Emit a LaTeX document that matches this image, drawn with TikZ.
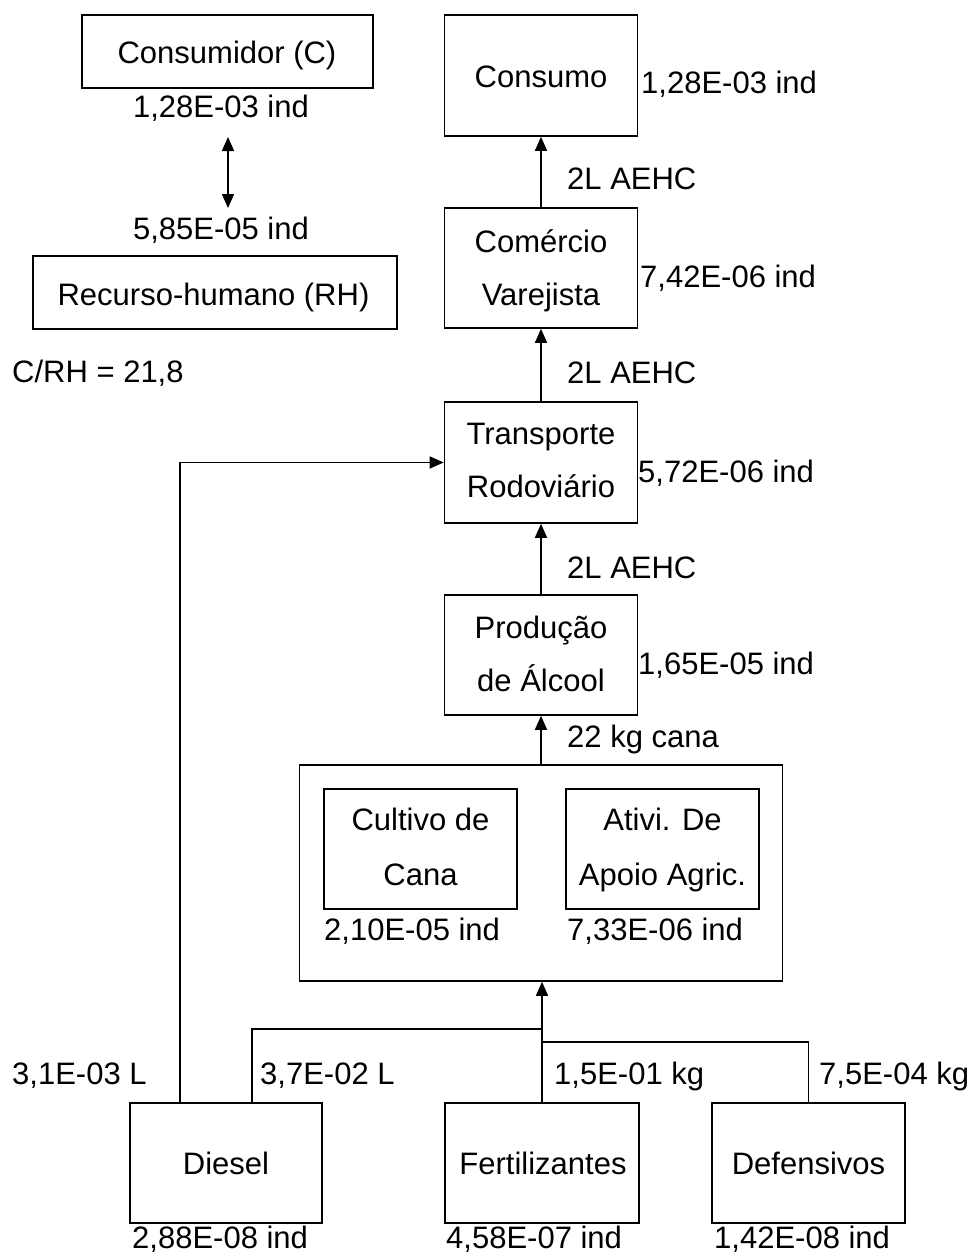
\documentclass[tikz,border=0pt]{standalone}
\usepackage{fontspec}
\setmainfont{Liberation Sans}
\usetikzlibrary{arrows.meta}
\begin{document}
\begin{tikzpicture}[x=1pt,y=-1pt,
  box/.style={draw,line width=1.6pt,inner sep=0pt},
  txt/.style={font=\fontsize{31}{37}\selectfont,inner sep=0pt,anchor=base},
  lbl/.style={font=\fontsize{31}{37}\selectfont,inner sep=0pt,anchor=base west},
  conn/.style={line width=1.5pt},
  arr/.style={conn,-{Triangle[length=14pt,width=12pt]}},
  darr/.style={conn,{Triangle[length=14pt,width=12pt]}-{Triangle[length=14pt,width=12pt]}}]
\useasboundingbox (0,0) rectangle (974,1254);
% --- boxes
\node[box,minimum width=291pt,minimum height=73pt] (cons) at (227.5,51.5) {};
\node[box,minimum width=364pt,minimum height=73pt] (rh) at (215,292.5) {};
\node[box,minimum width=193pt,minimum height=121pt] (consumo) at (541,75.5) {};
\node[box,minimum width=193pt,minimum height=120pt] (comercio) at (541,268) {};
\node[box,minimum width=193pt,minimum height=121pt] (transp) at (541,462.5) {};
\node[box,minimum width=193pt,minimum height=120pt] (prod) at (541,655) {};
\node[box,minimum width=483pt,minimum height=216pt] (big) at (541,873) {};
\node[box,minimum width=193pt,minimum height=120pt] (cultivo) at (420.5,849) {};
\node[box,minimum width=193pt,minimum height=120pt] (ativi) at (662.5,849) {};
\node[box,minimum width=192pt,minimum height=120pt] (diesel) at (226,1163) {};
\node[box,minimum width=194pt,minimum height=120pt] (fert) at (542,1163) {};
\node[box,minimum width=193pt,minimum height=120pt] (def) at (808.5,1163) {};
% --- box texts
\node[txt] (consT) at (227,63) {Consumidor (C)};
\node[txt] (rhT) at (213.5,305) {Recurso-humano (RH)};
\node[txt] (consumoT) at (541,87) {Consumo};
\node[txt] (comercioT1) at (541,252) {Comércio};
\node[txt] (comercioT2) at (541,305) {Varejista};
\node[txt] (transpT1) at (541,444) {Transporte};
\node[txt] (transpT2) at (541,497) {Rodoviário};
\node[txt] (prodT1) at (541,638) {Produção};
\node[txt] (prodT2) at (541,691) {de Álcool};
\node[txt] (cultivoT1) at (420.5,830) {Cultivo de};
\node[txt] (cultivoT2) at (420.5,885) {Cana};
\node[txt] (ativiT1) at (662.5,830) {Ativi. De};
\node[txt] (ativiT2) at (662.5,885) {Apoio Agric.};
\node[txt] (dieselT) at (226,1174) {Diesel};
\node[txt] (fertT) at (543,1174) {Fertilizantes};
\node[txt] (defT) at (808.5,1174) {Defensivos};
% --- labels
\node[txt] (lc1) at (221,117) {1,28E-03 ind};
\node[txt] (lc2) at (221,239) {5,85E-05 ind};
\node[lbl] (ratio) at (12,382) {C/RH = 21,8};
\node[lbl] (lconsumo) at (641,93) {1,28E-03 ind};
\node[lbl] (aehc1) at (567,189) {2L AEHC};
\node[lbl] (lcomercio) at (640,287) {7,42E-06 ind};
\node[lbl] (aehc2) at (567,383) {2L AEHC};
\node[lbl] (ltransp) at (638,482) {5,72E-06 ind};
\node[lbl] (aehc3) at (567,578) {2L AEHC};
\node[lbl] (lprod) at (638,674) {1,65E-05 ind};
\node[lbl] (lcana) at (567,747) {22 kg cana};
\node[lbl] (lcult) at (324,940) {2,10E-05 ind};
\node[lbl] (lativi) at (567,940) {7,33E-06 ind};
\node[lbl] (ld1) at (12,1084) {3,1E-03 L};
\node[lbl] (ld2) at (260,1084) {3,7E-02 L};
\node[lbl] (lf) at (554,1084) {1,5E-01 kg};
\node[lbl] (ldef) at (819,1084) {7,5E-04 kg};
\node[lbl] (ldiesel) at (132,1248) {2,88E-08 ind};
\node[lbl] (lfert) at (446,1248) {4,58E-07 ind};
\node[lbl] (ldefb) at (714,1248) {1,42E-08 ind};
% --- connectors
\coordinate (ca) at (228,137);
\coordinate (cb) at (228,208);
\draw[darr] (ca) -- (cb);
\draw[arr] (comercio) -- (consumo);
\draw[arr] (transp) -- (comercio);
\draw[arr] (prod) -- (transp);
\draw[arr] (big) -- (prod);
\coordinate (j1) at (542,1029);
\coordinate (j2) at (542,1042);
\draw[arr] (fert.north) -- (fert.north |- big.south);
\draw[conn] ([xshift=26pt]diesel.north) |- (j1);
\draw[conn] (def.north) |- (j2);
\draw[arr] ([xshift=-46pt]diesel.north) |- (transp.west);
\end{tikzpicture}
\end{document}
